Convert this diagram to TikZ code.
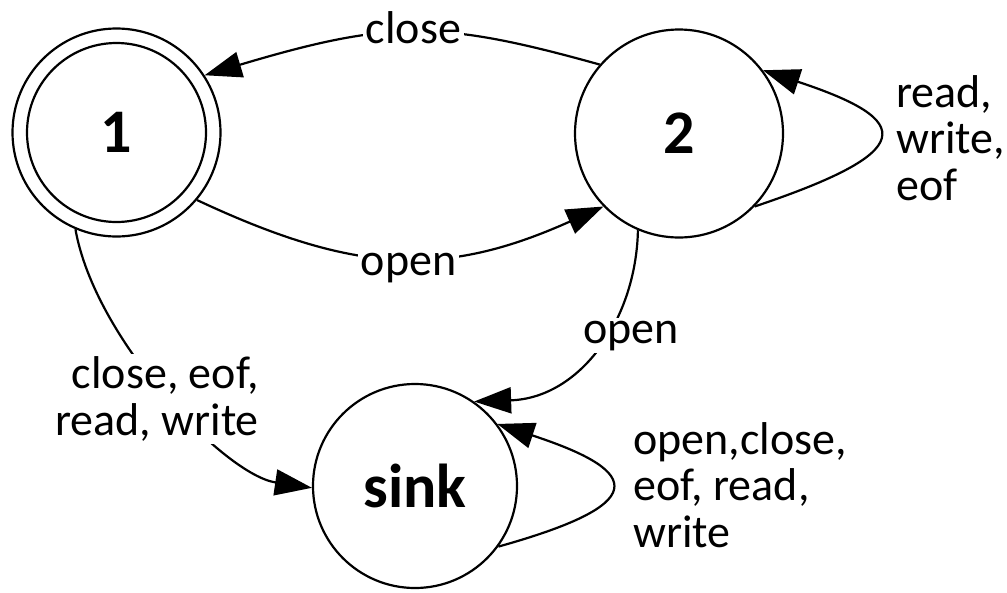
\documentclass[tikz,border=0pt]{standalone}
\usepackage{fontspec}
\setmainfont{Carlito}
\usetikzlibrary{arrows.meta}
\tikzset{
  state/.style={circle, draw, line width=2.2pt, inner sep=0pt,
    font=\fontsize{62}{64}\selectfont\bfseries},
  edge/.style={line width=2.2pt, -{Triangle[length=37pt,width=26pt]}},
  lbl/.style={fill=white, inner sep=3pt, align=left,
    font=\fontsize{46}{46.5}\selectfont},
}
\begin{document}
\begin{tikzpicture}[x=1pt,y=-1pt]
\useasboundingbox (0,0) rectangle (1007,592);

% states
\node[state, minimum size=208pt] (n1) at (116.5,132.5) {1};
\draw[line width=2.2pt] (n1.center) circle (89.5pt);
\node[state, minimum size=208pt] (n2) at (679,133.5) {2};
\node[state, minimum size=204pt] (sink) at (415,486) {sink};

% transitions
\draw[edge] (n2.139) .. controls (440,20) and (390,20) .. (n1.33);
\draw[edge] (n1.-40) .. controls (355,274) and (444,278) .. (n2.-136);
\draw[edge] (n1.-113) .. controls (95,340) and (225,475) .. (sink.181);
\draw[edge] (n2.-113) .. controls (636,320) and (580,398) .. (sink.55);
\draw[edge] (n2.-44) .. controls (917,152) and (917,121) .. (n2.37);
\draw[edge] (sink.-36) .. controls (647,505) and (647,473) .. (sink.37.5);

% transition labels (base anchors sit on the last line)
\node[lbl, anchor=base] (lclose) at (413.5,43) {close};
\node[lbl, anchor=base] (lopen1) at (408.5,275) {open};
\node[lbl, anchor=base west] (lopen2) at (580,343) {open};
\node[lbl, anchor=base west] (lloop2) at (893,200) {read,\\write,\\eof};
\node[lbl, anchor=base east, align=right] (lsink) at (262,435) {close, eof,\\read, write};
\node[lbl, anchor=base west] (lloops) at (630,547) {open,close,\\eof, read,\\write};
\end{tikzpicture}
\end{document}
